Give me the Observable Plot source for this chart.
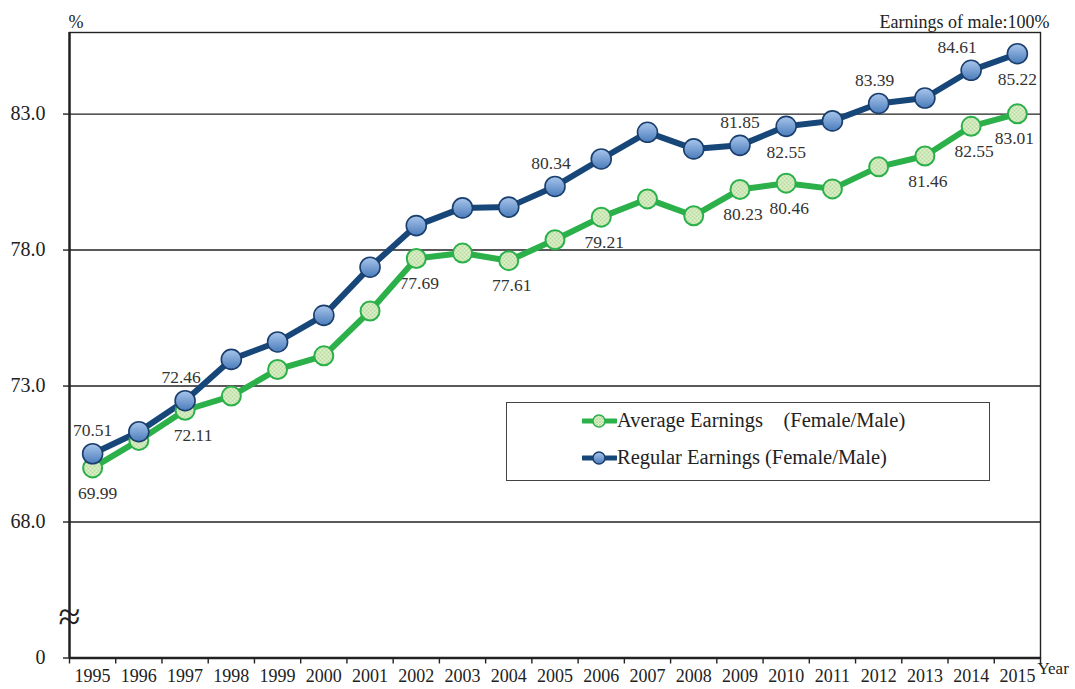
<!DOCTYPE html>
<html><head><meta charset="utf-8">
<script src="https://cdn.jsdelivr.net/npm/d3@7"></script>
<script src="https://cdn.jsdelivr.net/npm/@observablehq/plot@0.6"></script>
<style>
body{margin:0;background:#fff;font-family:'Liberation Serif',serif;}
#wrap{position:relative;width:1075px;height:689px;}
#legend{position:absolute;left:506px;top:402px;width:484px;height:79px;border:1px solid #444;background:#fff;box-sizing:border-box;}
.item{position:absolute;left:75px;display:flex;align-items:center;font-size:20.5px;color:#222;white-space:pre;font-family:'Liberation Serif',serif;}
.item svg{margin-right:0px;}
</style></head><body><div id="wrap"><div id="legend"></div></div>
<script>
const years = [1995,1996,1997,1998,1999,2000,2001,2002,2003,2004,2005,2006,2007,2008,2009,2010,2011,2012,2013,2014,2015];
const averageEarnings = [69.99,71.00,72.11,72.63,73.61,74.11,75.76,77.69,77.89,77.61,78.38,79.21,79.88,79.26,80.23,80.46,80.25,81.06,81.46,82.55,83.01];
const regularEarnings = [70.51,71.32,72.46,73.98,74.62,75.60,77.37,78.90,79.55,79.58,80.34,81.35,82.33,81.72,81.85,82.55,82.75,83.39,83.59,84.61,85.22];
const yTicks = [63,68,73,78,83];
const yTickLabels = ["0","68.0","73.0","78.0","83.0"];
const gridValues = [68,73,78,83];
const regularLabelsAbove = [1995,1997,2005,2009,2012,2014];
const regularLabelsBelow = [2010,2015];
const averageLabelsBelow = [1995,1997,2002,2004,2006,2009,2010,2013,2014,2015];
const seriesNames = ["Average Earnings    (Female/Male)","Regular Earnings (Female/Male)"];
const unitLabel = "%";
const noteLabel = "Earnings of male:100%";
const xAxisLabel = "Year";

const avg = years.map((y,i)=>({year:y,value:averageEarnings[i]}));
const reg = years.map((y,i)=>({year:y,value:regularEarnings[i]}));
const bounds = years.map(y=>y-0.5).concat([years[years.length-1]+0.5]);

const GREEN = "#2bb04a", BLUE = "#174679";
const font = "'Liberation Serif', serif";

function labels(rows, dy, dxFn){
  const groups = d3.group(rows, dxFn);
  return Array.from(groups, ([dx, rs]) => Plot.text(rs, {x:"year", y:"value", text:d=>d.value.toFixed(2), dy, dx, fontSize:17.5, fill:"#333", fontFamily:font}));
}

const chart = Plot.plot({
  width:1075, height:689,
  marginTop:32, marginBottom:31.5, marginLeft:69, marginRight:35,
  style:{fontFamily:font, background:"#fff", color:"#222"},
  x:{type:"linear", domain:[1994.5,2015.5], label:null},
  y:{domain:[63,86], label:null},
  marks:[
    Plot.gridY({ticks:gridValues, stroke:"#222", strokeOpacity:1, strokeWidth:1.4}),
    Plot.frame({stroke:"#222", strokeWidth:1.4}),
    Plot.ruleX([1994.5], {stroke:"#222", strokeWidth:2.4}),
    Plot.ruleY([63], {stroke:"#222", strokeWidth:2.4}),
    Plot.axisY({ticks:yTicks, tickFormat:(d)=>yTickLabels[yTicks.indexOf(d)], tickSize:6, tickPadding:18, fontSize:20, stroke:"#222", strokeWidth:1.4, label:null, fontFamily:font}),
    Plot.axisX({ticks:bounds, tickFormat:()=>"", tickSize:6, stroke:"#222", strokeWidth:1.4, label:null}),
    Plot.axisX({ticks:years, tickFormat:d=>String(d), tickSize:0, tickPadding:11, fontSize:18, label:null, fontFamily:font}),
    Plot.text([0], {x:()=>1994.5, y:()=>64.5, text:()=>"≈", fontSize:40, fill:"#222", fontFamily:font}),
    ...labels(reg.filter(d=>regularLabelsAbove.includes(d.year)), -23, d=>d.year===2014?-14:(d.year===2005||d.year===1997||d.year===2012?-4:0)),
    ...labels(reg.filter(d=>regularLabelsBelow.includes(d.year)), 26, d=>0),
    ...labels(avg.filter(d=>averageLabelsBelow.includes(d.year)), 25, d=>d.year===1997?8:(d.year===1995?5:(d.year===2015?-3:3))),
    Plot.line(avg, {x:"year", y:"value", stroke:GREEN, strokeWidth:6}),
    Plot.line(reg, {x:"year", y:"value", stroke:BLUE, strokeWidth:6}),
    Plot.dot(avg, {x:"year", y:"value", r:9.5, fill:"url(#greenPat)", stroke:GREEN, strokeWidth:2}),
    Plot.dot(reg, {x:"year", y:"value", r:10, fill:"url(#blueGrad)", stroke:"#1b3f6d", strokeWidth:1.6}),
    Plot.text([0], {frameAnchor:"top-left", text:()=>unitLabel, dy:-17, dx:-1, textAnchor:"start", fontSize:18, fill:"#222", fontFamily:font}),
    Plot.text([0], {frameAnchor:"top-right", text:()=>noteLabel, dy:-17, dx:9, textAnchor:"end", fontSize:18, fill:"#222", fontFamily:font}),
    Plot.text([0], {frameAnchor:"bottom-right", text:()=>xAxisLabel, dy:16, dx:-3, textAnchor:"start", fontSize:17, fill:"#222", fontFamily:font})
  ]
});

const svg = d3.select(chart);
const defs = svg.insert("defs", ":first-child");
const g = defs.append("linearGradient").attr("id","blueGrad").attr("x1",0).attr("y1",0).attr("x2",0).attr("y2",1);
g.append("stop").attr("offset","0%").attr("stop-color","#a9c6ec");
g.append("stop").attr("offset","100%").attr("stop-color","#4a7cbb");
const p = defs.append("pattern").attr("id","greenPat").attr("patternUnits","userSpaceOnUse").attr("width",4).attr("height",4);
p.append("rect").attr("width",4).attr("height",4).attr("fill","#e4f2d3");
p.append("path").attr("d","M0,0L4,4M4,0L0,4").attr("stroke","#a9d58f").attr("stroke-width",0.8);

document.getElementById("wrap").prepend(chart);
chart.style.position="absolute"; chart.style.left="0"; chart.style.top="0";

const legend = d3.select("#legend");
const items = [{name:seriesNames[0], color:GREEN, fill:"url(#greenPatL)", stroke:GREEN}, {name:seriesNames[1], color:BLUE, fill:"url(#blueGradL)", stroke:"#1b3f6d"}];
items.forEach((it,i)=>{
  const div = legend.append("div").attr("class","item").style("top", (i===0? 6 : 43)+"px");
  const s = div.append("svg").attr("width",35).attr("height",16);
  if(i===0){
    const pd = s.append("defs").append("pattern").attr("id","greenPatL").attr("patternUnits","userSpaceOnUse").attr("width",3).attr("height",3);
    pd.append("rect").attr("width",3).attr("height",3).attr("fill","#e4f2d3");
    pd.append("path").attr("d","M0,0L3,3M3,0L0,3").attr("stroke","#a9d58f").attr("stroke-width",0.7);
  } else {
    const gd = s.append("defs").append("linearGradient").attr("id","blueGradL").attr("x1",0).attr("y1",0).attr("x2",0).attr("y2",1);
    gd.append("stop").attr("offset","0%").attr("stop-color","#a9c6ec");
    gd.append("stop").attr("offset","100%").attr("stop-color","#4a7cbb");
  }
  s.append("line").attr("x1",1).attr("x2",34).attr("y1",8).attr("y2",8).attr("stroke",it.color).attr("stroke-width",5).attr("stroke-linecap","round");
  s.append("circle").attr("cx",17).attr("cy",8).attr("r",6).attr("fill",it.fill).attr("stroke",it.stroke).attr("stroke-width",1.5);
  div.append("span").text(it.name);
});
</script></body></html>
